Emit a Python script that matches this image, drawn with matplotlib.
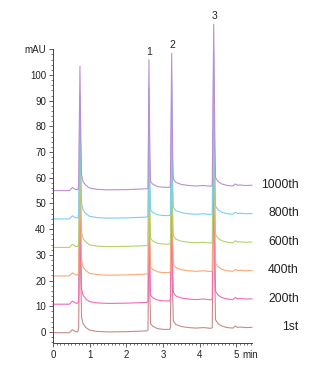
"""
Stacked chromatograms: column stability over 1000 injections.
"""
import matplotlib
matplotlib.use('Agg')
import matplotlib.pyplot as plt
from matplotlib.ticker import FixedLocator
from matplotlib.transforms import blended_transform_factory

plt.rcParams['font.family'] = ['Liberation Sans', 'DejaVu Sans']

# Trace shape (time in min, signal in mAU above baseline)
time_min = [0.00, 0.45, 0.50, 0.53, 0.57, 0.62, 0.68, 0.70, 0.735, 0.76, 0.78,
            0.82, 0.90, 1.00, 1.20, 1.50, 2.00, 2.55, 2.59, 2.615, 2.64, 2.66,
            2.72, 2.85, 3.00, 3.18, 3.20, 3.235, 3.26, 3.28, 3.35, 3.50, 3.70,
            3.90, 4.10, 4.30, 4.34, 4.38, 4.41, 4.43, 4.50, 4.60, 4.75, 4.90,
            4.97, 5.02, 5.10, 5.25, 5.42]
signal = [0.0, 0.0, 0.8, 1.2, 0.8, 0.4, 0.4, 2.0, 48.5, 20.0, 6.0,
          3.5, 2.0, 1.0, 0.5, 0.3, 0.4, 0.7, 1.0, 51.0, 15.0, 3.5,
          2.5, 1.6, 1.3, 1.3, 2.0, 53.4, 15.0, 4.5, 3.2, 2.4, 2.0,
          1.8, 2.0, 1.7, 2.0, 64.8, 20.0, 5.0, 3.5, 2.6, 2.0, 1.8,
          2.6, 2.1, 2.2, 2.0, 2.1]

# Injection runs and their baseline offsets (mAU)
runs = ["1st", "200th", "400th", "600th", "800th", "1000th"]
offsets = [-0.3, 10.8, 21.8, 32.9, 44.0, 55.0]
colors = ["#c98a8a", "#f06bb5", "#f9a878", "#b2d46a", "#78cff5", "#bb90d2"]

# Peak labels
peak_names = ["1", "2", "3"]
peak_times = [2.62, 3.24, 4.40]
peak_tops = [106.0, 108.4, 119.8]

# Axis ticks
y_major = [0, 10, 20, 30, 40, 50, 60, 70, 80, 90, 100, 110]
y_labels = ["0", "10", "20", "30", "40", "50", "60", "70", "80", "90", "100", "mAU"]
y_minor = [v for v in range(-4, 111, 2) if v % 10]
x_major = [0, 1, 2, 3, 4, 5]
x_minor = [i / 10 for i in range(0, 55)]

fig = plt.figure(figsize=(3.31, 3.70), dpi=100)
ax = fig.add_axes([0.160, 0.073, 0.601, 0.884])

for name, off, c in zip(runs, offsets, colors):
    ax.plot(time_min, [s + off for s in signal], color=c, lw=0.8,
            clip_on=False, solid_joinstyle='round')
    ax.text(6.70, off + 2.2, name, ha='right', va='center', fontsize=8.8,
            color='#222222', clip_on=False)

for name, t, top in zip(peak_names, peak_times, peak_tops):
    ax.text(t, top + 1.2, name, ha='center', va='bottom', fontsize=7.5,
            color='#222222')

ax.set_xlim(0, 5.42)
ax.set_ylim(-4.3, 123)

for s in ['top', 'right']:
    ax.spines[s].set_visible(False)
ax.spines['left'].set_bounds(-4.3, 110)
for s in ['left', 'bottom']:
    ax.spines[s].set_color('#444444')
    ax.spines[s].set_linewidth(0.7)

ax.set_yticks(y_major)
ax.set_yticklabels(y_labels)
ax.yaxis.set_minor_locator(FixedLocator(y_minor))
ax.set_xticks(x_major)
ax.xaxis.set_minor_locator(FixedLocator(x_minor))

ax.tick_params(which='major', length=3, width=0.6, color='#444444',
               labelsize=7, labelcolor='#222222', pad=2)
ax.tick_params(which='minor', length=1.6, width=0.5, color='#444444')

# "min" unit next to the last x tick label
trans = blended_transform_factory(ax.transData, ax.transAxes)
ax.text(5.15, -0.021, "min", transform=trans, ha='left', va='top',
        fontsize=7, color='#222222')

plt.savefig("out.png", dpi=100)
plt.close()
